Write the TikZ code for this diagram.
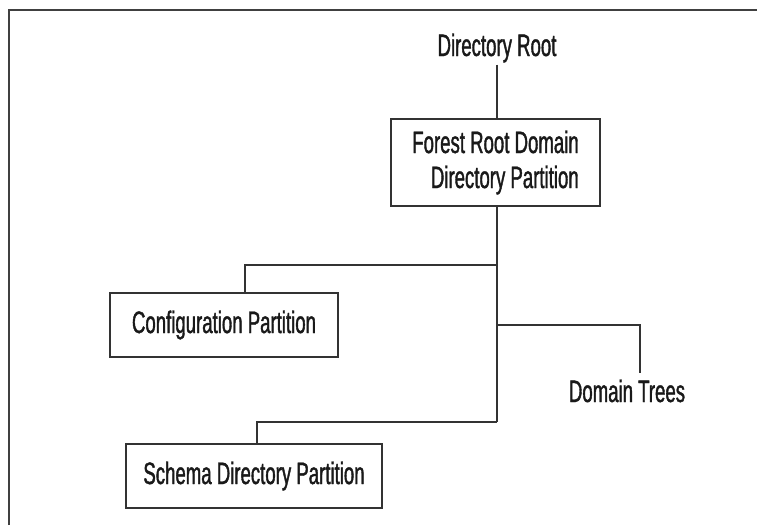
\documentclass[tikz,border=0pt]{standalone}
\usepackage{fontspec}
\setmainfont[FakeStretch=0.6, FakeBold=1.2]{Liberation Sans}
\begin{document}
\begin{tikzpicture}[x=1pt,y=-1pt,
  lbl/.style={font=\fontsize{31}{35}\selectfont, text=black!90, inner sep=2pt},
  boxnode/.style={lbl, draw=black!80, line width=1.3pt, align=center},
  conn/.style={draw=black!80, line width=1.3pt},
  frame/.style={draw=black!75, line width=2pt}]
\useasboundingbox (0,0) rectangle (757,525);
\draw[frame] (9,525) -- (9,9.5) -- (757,9.5);
% nodes
\node[lbl, anchor=base] (root) at (497,56) {Directory Root};
\node[boxnode, minimum width=209, minimum height=87, align=right] (forest) at (495.5,162.5) {Forest Root Domain\\Directory Partition};
\node[boxnode, minimum width=228, minimum height=64] (config) at (224,325) {Configuration Partition};
\node[boxnode, minimum width=256, minimum height=64] (schema) at (254,476) {Schema Directory Partition};
\node[lbl, anchor=base] (domain) at (627,402) {Domain Trees};
% junctions
\coordinate (j1) at (497,265);
\coordinate (j2) at (497,325);
\coordinate (j3) at (497,422);
\coordinate (c1) at (245,265);
\coordinate (d1) at (640,325);
\coordinate (d2) at (640,373);
\coordinate (s1) at (257,422);
% connectors
\draw[conn] (root.south -| j1) -- (forest.north -| j1);
\draw[conn] (forest.south -| j1) -- (j3);
\draw[conn] (j1) -- (c1) -- (config.north -| c1);
\draw[conn] (j2) -- (d1) -- (d2);
\draw[conn] (j3) -- (s1) -- (schema.north -| s1);
\end{tikzpicture}
\end{document}
